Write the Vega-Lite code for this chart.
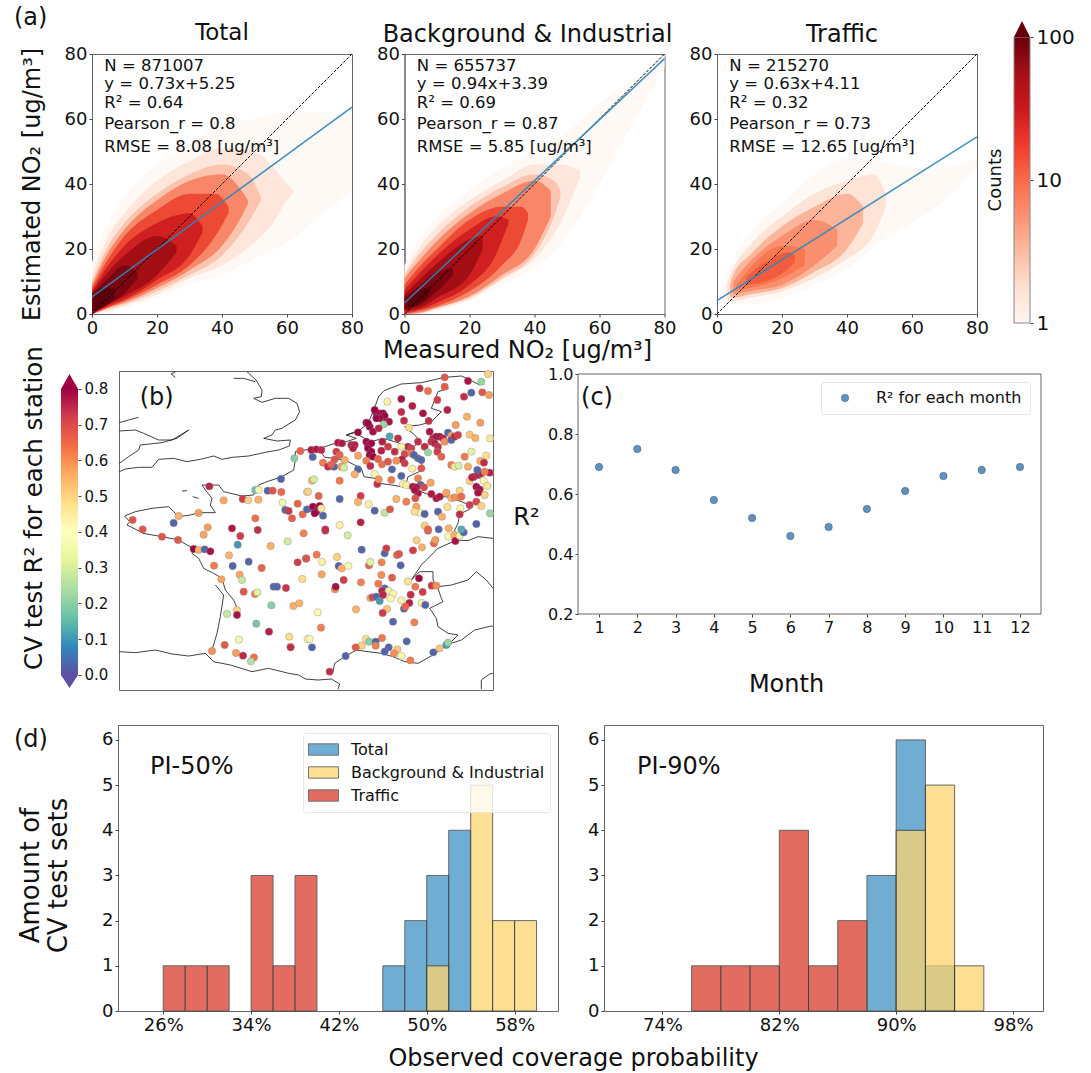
{"$schema":"https://vega.github.io/schema/vega-lite/v6.json","padding":{"left":14,"top":6,"right":0,"bottom":0},"background":"white",
"config":{"font":"DejaVu Sans","view":{"stroke":"#666","strokeWidth":1},"axis":{"grid":false,"tickSize":3,"tickColor":"#444","domainColor":"#666","labelColor":"#111","titleColor":"#111","titleFontWeight":"normal","labelFontSize":18,"titleFontSize":24,"labelPadding":2,"labelOverlap":false,"labelFlush":false},"title":{"fontSize":24,"fontWeight":"normal","color":"#111"},"text":{"color":"#111"}},
"datasets":{
"density":[
{"p":"T","level":1,"x":0,"lo":0,"hi":16},{"p":"T","level":1,"x":5,"lo":0.5,"hi":28},{"p":"T","level":1,"x":10,"lo":2,"hi":36},{"p":"T","level":1,"x":20,"lo":5,"hi":46},{"p":"T","level":1,"x":30,"lo":9,"hi":52},{"p":"T","level":1,"x":40,"lo":12,"hi":58},{"p":"T","level":1,"x":50,"lo":17,"hi":60},{"p":"T","level":1,"x":60,"lo":22,"hi":62},{"p":"T","level":1,"x":70,"lo":30,"hi":62},{"p":"T","level":1,"x":80,"lo":38,"hi":60},
{"p":"T","level":2,"x":0,"lo":0,"hi":12},{"p":"T","level":2,"x":5,"lo":1,"hi":24},{"p":"T","level":2,"x":10,"lo":2.5,"hi":31},{"p":"T","level":2,"x":20,"lo":6,"hi":41},{"p":"T","level":2,"x":30,"lo":11,"hi":47},{"p":"T","level":2,"x":40,"lo":15,"hi":51},{"p":"T","level":2,"x":50,"lo":22,"hi":50},{"p":"T","level":2,"x":55,"lo":27,"hi":46},{"p":"T","level":2,"x":60,"lo":35,"hi":40},{"p":"T","level":2,"x":62,"lo":37.5,"hi":38},
{"p":"T","level":3.5,"x":0,"lo":0,"hi":10},{"p":"T","level":3.5,"x":5,"lo":1.5,"hi":21},{"p":"T","level":3.5,"x":10,"lo":3,"hi":28},{"p":"T","level":3.5,"x":20,"lo":7,"hi":37},{"p":"T","level":3.5,"x":30,"lo":12,"hi":43},{"p":"T","level":3.5,"x":40,"lo":18,"hi":46},{"p":"T","level":3.5,"x":48,"lo":28,"hi":43},{"p":"T","level":3.5,"x":52,"lo":35,"hi":36},
{"p":"T","level":5,"x":0,"lo":0,"hi":9},{"p":"T","level":5,"x":5,"lo":2,"hi":19},{"p":"T","level":5,"x":10,"lo":3.5,"hi":26},{"p":"T","level":5,"x":20,"lo":8,"hi":35},{"p":"T","level":5,"x":30,"lo":13.5,"hi":41},{"p":"T","level":5,"x":40,"lo":21,"hi":43},{"p":"T","level":5,"x":46,"lo":30,"hi":38},{"p":"T","level":5,"x":48,"lo":34,"hi":35},
{"p":"T","level":10,"x":0,"lo":0,"hi":8},{"p":"T","level":10,"x":5,"lo":2,"hi":17},{"p":"T","level":10,"x":10,"lo":4,"hi":24},{"p":"T","level":10,"x":20,"lo":9,"hi":32},{"p":"T","level":10,"x":30,"lo":15,"hi":37},{"p":"T","level":10,"x":38,"lo":24,"hi":37},{"p":"T","level":10,"x":42,"lo":31,"hi":33},
{"p":"T","level":20,"x":0,"lo":0,"hi":7},{"p":"T","level":20,"x":5,"lo":2.5,"hi":15},{"p":"T","level":20,"x":10,"lo":4.5,"hi":21},{"p":"T","level":20,"x":20,"lo":10.5,"hi":28},{"p":"T","level":20,"x":30,"lo":18,"hi":31},{"p":"T","level":20,"x":34,"lo":25,"hi":27},
{"p":"T","level":40,"x":0,"lo":0,"hi":6.5},{"p":"T","level":40,"x":5,"lo":3,"hi":13},{"p":"T","level":40,"x":10,"lo":5.5,"hi":18},{"p":"T","level":40,"x":20,"lo":12,"hi":24},{"p":"T","level":40,"x":26,"lo":19,"hi":21},
{"p":"T","level":70,"x":0,"lo":0.5,"hi":6},{"p":"T","level":70,"x":5,"lo":3,"hi":11},{"p":"T","level":70,"x":10,"lo":6.5,"hi":15},{"p":"T","level":70,"x":14,"lo":11,"hi":13},
{"p":"T","level":100,"x":0.5,"lo":1,"hi":5},{"p":"T","level":100,"x":3,"lo":2,"hi":8},{"p":"T","level":100,"x":7,"lo":5,"hi":8},
{"p":"B","level":1,"x":0,"lo":0,"hi":15},{"p":"B","level":1,"x":5,"lo":0,"hi":24},{"p":"B","level":1,"x":10,"lo":1,"hi":30},{"p":"B","level":1,"x":20,"lo":4,"hi":38},{"p":"B","level":1,"x":30,"lo":9,"hi":45},{"p":"B","level":1,"x":40,"lo":14,"hi":50},{"p":"B","level":1,"x":50,"lo":24,"hi":56},{"p":"B","level":1,"x":60,"lo":40,"hi":65},{"p":"B","level":1,"x":70,"lo":58,"hi":72},{"p":"B","level":1,"x":80,"lo":76,"hi":80},
{"p":"B","level":2,"x":0,"lo":0,"hi":13},{"p":"B","level":2,"x":5,"lo":0.2,"hi":21},{"p":"B","level":2,"x":10,"lo":1.5,"hi":27},{"p":"B","level":2,"x":20,"lo":4.5,"hi":35},{"p":"B","level":2,"x":30,"lo":10.5,"hi":41},{"p":"B","level":2,"x":40,"lo":17,"hi":46},{"p":"B","level":2,"x":48,"lo":28,"hi":46},{"p":"B","level":2,"x":54,"lo":42,"hi":44},
{"p":"B","level":3.5,"x":0,"lo":0,"hi":12},{"p":"B","level":3.5,"x":5,"lo":0.3,"hi":19},{"p":"B","level":3.5,"x":10,"lo":1.8,"hi":24.5},{"p":"B","level":3.5,"x":20,"lo":5,"hi":33},{"p":"B","level":3.5,"x":30,"lo":11,"hi":39},{"p":"B","level":3.5,"x":40,"lo":18.5,"hi":43},{"p":"B","level":3.5,"x":46,"lo":30,"hi":41},{"p":"B","level":3.5,"x":48,"lo":36,"hi":38},
{"p":"B","level":5,"x":0,"lo":0,"hi":11},{"p":"B","level":5,"x":5,"lo":0.5,"hi":17},{"p":"B","level":5,"x":10,"lo":2,"hi":22.5},{"p":"B","level":5,"x":20,"lo":5.5,"hi":31},{"p":"B","level":5,"x":30,"lo":12,"hi":37},{"p":"B","level":5,"x":40,"lo":20,"hi":41},{"p":"B","level":5,"x":45,"lo":30,"hi":38},
{"p":"B","level":10,"x":0,"lo":0,"hi":9},{"p":"B","level":10,"x":5,"lo":1,"hi":15},{"p":"B","level":10,"x":10,"lo":2.5,"hi":20},{"p":"B","level":10,"x":20,"lo":7,"hi":29},{"p":"B","level":10,"x":30,"lo":15,"hi":33},{"p":"B","level":10,"x":36,"lo":23,"hi":33},{"p":"B","level":10,"x":38,"lo":29,"hi":31},
{"p":"B","level":20,"x":0,"lo":0.5,"hi":7.5},{"p":"B","level":20,"x":5,"lo":1.5,"hi":13},{"p":"B","level":20,"x":10,"lo":3.5,"hi":18},{"p":"B","level":20,"x":20,"lo":9,"hi":26},{"p":"B","level":20,"x":28,"lo":18,"hi":30},{"p":"B","level":20,"x":32,"lo":28,"hi":29},
{"p":"B","level":40,"x":0,"lo":1,"hi":6},{"p":"B","level":40,"x":5,"lo":2,"hi":11},{"p":"B","level":40,"x":10,"lo":5,"hi":15.5},{"p":"B","level":40,"x":20,"lo":12,"hi":23},{"p":"B","level":40,"x":24,"lo":20,"hi":24},
{"p":"B","level":70,"x":0,"lo":1.5,"hi":5},{"p":"B","level":70,"x":5,"lo":3,"hi":9},{"p":"B","level":70,"x":10,"lo":7,"hi":13},{"p":"B","level":70,"x":15,"lo":12,"hi":14},
{"p":"B","level":100,"x":1,"lo":2,"hi":4},{"p":"B","level":100,"x":5,"lo":3.5,"hi":7.5},{"p":"B","level":100,"x":8,"lo":7,"hi":8.5},
{"p":"R","level":1,"x":1,"lo":3.5,"hi":6},{"p":"R","level":1,"x":5,"lo":3,"hi":17},{"p":"R","level":1,"x":10,"lo":3,"hi":25},{"p":"R","level":1,"x":20,"lo":5,"hi":34},{"p":"R","level":1,"x":30,"lo":9,"hi":43},{"p":"R","level":1,"x":40,"lo":14,"hi":48},{"p":"R","level":1,"x":50,"lo":22,"hi":47},{"p":"R","level":1,"x":60,"lo":28,"hi":45},{"p":"R","level":1,"x":70,"lo":35,"hi":45},{"p":"R","level":1,"x":80,"lo":45,"hi":48},
{"p":"R","level":2,"x":3,"lo":4.5,"hi":9},{"p":"R","level":2,"x":5,"lo":4,"hi":14},{"p":"R","level":2,"x":10,"lo":5,"hi":21},{"p":"R","level":2,"x":20,"lo":7,"hi":30},{"p":"R","level":2,"x":30,"lo":11,"hi":37},{"p":"R","level":2,"x":40,"lo":17,"hi":41},{"p":"R","level":2,"x":48,"lo":24,"hi":43},{"p":"R","level":2,"x":52,"lo":33,"hi":37},
{"p":"R","level":3.5,"x":4,"lo":5.5,"hi":9},{"p":"R","level":3.5,"x":5,"lo":5,"hi":12},{"p":"R","level":3.5,"x":10,"lo":6,"hi":18},{"p":"R","level":3.5,"x":20,"lo":8,"hi":27},{"p":"R","level":3.5,"x":30,"lo":13,"hi":33},{"p":"R","level":3.5,"x":40,"lo":20,"hi":37},{"p":"R","level":3.5,"x":45,"lo":28,"hi":33},
{"p":"R","level":5,"x":5,"lo":6,"hi":10},{"p":"R","level":5,"x":10,"lo":7,"hi":16},{"p":"R","level":5,"x":20,"lo":9,"hi":24},{"p":"R","level":5,"x":30,"lo":15,"hi":29},{"p":"R","level":5,"x":37,"lo":21,"hi":26},
{"p":"R","level":7,"x":6,"lo":7.5,"hi":9},{"p":"R","level":7,"x":10,"lo":8,"hi":14},{"p":"R","level":7,"x":20,"lo":11,"hi":21},{"p":"R","level":7,"x":27,"lo":15,"hi":20},
{"p":"R","level":10,"x":9,"lo":9,"hi":11.5},{"p":"R","level":10,"x":15,"lo":10,"hi":16},{"p":"R","level":10,"x":22,"lo":14,"hi":19},{"p":"R","level":10,"x":24,"lo":16,"hi":18}
],
"lines":[
{"p":"T","kind":"identity","x":0,"y":0},{"p":"T","kind":"identity","x":80,"y":80},{"p":"T","kind":"fit","x":0,"y":5.25},{"p":"T","kind":"fit","x":80,"y":63.65},
{"p":"B","kind":"identity","x":0,"y":0},{"p":"B","kind":"identity","x":80,"y":80},{"p":"B","kind":"fit","x":0,"y":3.39},{"p":"B","kind":"fit","x":80,"y":78.59},
{"p":"R","kind":"identity","x":0,"y":0},{"p":"R","kind":"identity","x":80,"y":80},{"p":"R","kind":"fit","x":0,"y":4.11},{"p":"R","kind":"fit","x":80,"y":54.51}
],
"notes":[
{"p":"T","t":"N = 871007","x":3.8,"y":76.4},{"p":"T","t":"y = 0.73x+5.25","x":3.8,"y":70.8},{"p":"T","t":"R² = 0.64","x":3.8,"y":64.8},{"p":"T","t":"Pearson_r = 0.8","x":3.8,"y":58.6},{"p":"T","t":"RMSE = 8.08 [ug/m³]","x":3.8,"y":51.5},
{"p":"B","t":"N = 655737","x":3.8,"y":76.4},{"p":"B","t":"y = 0.94x+3.39","x":3.8,"y":70.8},{"p":"B","t":"R² = 0.69","x":3.8,"y":64.8},{"p":"B","t":"Pearson_r = 0.87","x":3.8,"y":58.6},{"p":"B","t":"RMSE = 5.85 [ug/m³]","x":3.8,"y":51.5},
{"p":"R","t":"N = 215270","x":3.8,"y":76.4},{"p":"R","t":"y = 0.63x+4.11","x":3.8,"y":70.8},{"p":"R","t":"R² = 0.32","x":3.8,"y":64.8},{"p":"R","t":"Pearson_r = 0.73","x":3.8,"y":58.6},{"p":"R","t":"RMSE = 12.65 [ug/m³]","x":3.8,"y":51.5}
],
"coast":[
{"s":1,"i":1,"x":552,"y":40},{"s":1,"i":2,"x":582,"y":40},{"s":1,"i":3,"x":617,"y":50},
{"s":2,"i":1,"x":592,"y":20},{"s":2,"i":2,"x":619,"y":45},{"s":2,"i":3,"x":637,"y":75},{"s":2,"i":4,"x":635,"y":95},{"s":2,"i":5,"x":612,"y":100},{"s":2,"i":6,"x":637,"y":112},{"s":2,"i":7,"x":677,"y":100},{"s":2,"i":8,"x":717,"y":100},{"s":2,"i":9,"x":742,"y":115},{"s":2,"i":10,"x":750,"y":140},{"s":2,"i":11,"x":737,"y":165},{"s":2,"i":12,"x":712,"y":180},{"s":2,"i":13,"x":697,"y":190},{"s":2,"i":14,"x":677,"y":195},{"s":2,"i":15,"x":667,"y":210},{"s":2,"i":16,"x":642,"y":220},{"s":2,"i":17,"x":682,"y":228},{"s":2,"i":18,"x":722,"y":225},{"s":2,"i":19,"x":719,"y":243},{"s":2,"i":20,"x":687,"y":255},{"s":2,"i":21,"x":647,"y":262},{"s":2,"i":22,"x":597,"y":273},{"s":2,"i":23,"x":547,"y":277},{"s":2,"i":24,"x":517,"y":283},{"s":2,"i":25,"x":492,"y":273},{"s":2,"i":26,"x":452,"y":283},{"s":2,"i":27,"x":412,"y":290},{"s":2,"i":28,"x":372,"y":280},{"s":2,"i":29,"x":327,"y":283},{"s":2,"i":30,"x":307,"y":307},{"s":2,"i":31,"x":267,"y":307},{"s":2,"i":32,"x":227,"y":312},{"s":2,"i":33,"x":209,"y":320},
{"s":3,"i":1,"x":209,"y":173},{"s":3,"i":2,"x":237,"y":165},{"s":3,"i":3,"x":267,"y":157},
{"s":4,"i":1,"x":209,"y":198},{"s":4,"i":2,"x":257,"y":195},{"s":4,"i":3,"x":282,"y":205},{"s":4,"i":4,"x":327,"y":225},{"s":4,"i":5,"x":367,"y":225},{"s":4,"i":6,"x":392,"y":210},{"s":4,"i":7,"x":417,"y":195},{"s":4,"i":8,"x":382,"y":220},{"s":4,"i":9,"x":337,"y":233},{"s":4,"i":10,"x":272,"y":240},{"s":4,"i":11,"x":267,"y":255},{"s":4,"i":12,"x":237,"y":275},{"s":4,"i":13,"x":209,"y":295},
{"s":5,"i":1,"x":378,"y":20},{"s":5,"i":2,"x":364,"y":27},{"s":5,"i":3,"x":377,"y":37},
{"s":6,"i":1,"x":429,"y":395},{"s":6,"i":2,"x":447,"y":400},
{"s":7,"i":1,"x":397,"y":378},{"s":7,"i":2,"x":412,"y":377},
{"s":8,"i":1,"x":225,"y":453},{"s":8,"i":2,"x":257,"y":440},{"s":8,"i":3,"x":307,"y":430},{"s":8,"i":4,"x":357,"y":425},{"s":8,"i":5,"x":372,"y":440},{"s":8,"i":6,"x":387,"y":455},{"s":8,"i":7,"x":422,"y":450},{"s":8,"i":8,"x":447,"y":443},{"s":8,"i":9,"x":497,"y":443},{"s":8,"i":10,"x":482,"y":420},{"s":8,"i":11,"x":487,"y":400},{"s":8,"i":12,"x":467,"y":375},{"s":8,"i":13,"x":457,"y":360},{"s":8,"i":14,"x":507,"y":360},{"s":8,"i":15,"x":522,"y":380},{"s":8,"i":16,"x":577,"y":393},{"s":8,"i":17,"x":612,"y":390},{"s":8,"i":18,"x":627,"y":360},{"s":8,"i":19,"x":652,"y":350},{"s":8,"i":20,"x":697,"y":335},{"s":8,"i":21,"x":732,"y":315},{"s":8,"i":22,"x":737,"y":285},{"s":8,"i":23,"x":737,"y":260},{"s":8,"i":24,"x":777,"y":253},{"s":8,"i":25,"x":810,"y":250},{"s":8,"i":26,"x":850,"y":237},{"s":8,"i":27,"x":890,"y":230},{"s":8,"i":28,"x":920,"y":220},{"s":8,"i":29,"x":890,"y":210},{"s":8,"i":30,"x":930,"y":195},{"s":8,"i":31,"x":955,"y":175},{"s":8,"i":32,"x":970,"y":140},{"s":8,"i":33,"x":987,"y":95},{"s":8,"i":34,"x":1003,"y":77},{"s":8,"i":35,"x":1055,"y":57},{"s":8,"i":36,"x":1115,"y":53},{"s":8,"i":37,"x":1185,"y":37},{"s":8,"i":38,"x":1235,"y":33},{"s":8,"i":39,"x":1265,"y":47},{"s":8,"i":40,"x":1290,"y":60},
{"s":9,"i":1,"x":890,"y":210},{"s":9,"i":2,"x":915,"y":203},{"s":9,"i":3,"x":945,"y":220},{"s":9,"i":4,"x":965,"y":230},{"s":9,"i":5,"x":1000,"y":220},{"s":9,"i":6,"x":1035,"y":230},{"s":9,"i":7,"x":1065,"y":240},{"s":9,"i":8,"x":1085,"y":255},
{"s":10,"i":1,"x":810,"y":255},{"s":10,"i":2,"x":825,"y":277},{"s":10,"i":3,"x":855,"y":280},{"s":10,"i":4,"x":895,"y":290},{"s":10,"i":5,"x":915,"y":300},{"s":10,"i":6,"x":935,"y":310},{"s":10,"i":7,"x":943,"y":335},{"s":10,"i":8,"x":975,"y":340},{"s":10,"i":9,"x":990,"y":355},{"s":10,"i":10,"x":1025,"y":360},{"s":10,"i":11,"x":1055,"y":365},{"s":10,"i":12,"x":1085,"y":370},{"s":10,"i":13,"x":1115,"y":380},{"s":10,"i":14,"x":1140,"y":390},{"s":10,"i":15,"x":1165,"y":393},{"s":10,"i":16,"x":1200,"y":397},{"s":10,"i":17,"x":1235,"y":410},{"s":10,"i":18,"x":1260,"y":420},{"s":10,"i":19,"x":1260,"y":433},{"s":10,"i":20,"x":1230,"y":447},{"s":10,"i":21,"x":1225,"y":475},{"s":10,"i":22,"x":1215,"y":495},{"s":10,"i":23,"x":1217,"y":525},{"s":10,"i":24,"x":1255,"y":527},{"s":10,"i":25,"x":1285,"y":515},{"s":10,"i":26,"x":1330,"y":520},
{"s":11,"i":1,"x":1197,"y":70},{"s":11,"i":2,"x":1165,"y":80},{"s":11,"i":3,"x":1145,"y":130},{"s":11,"i":4,"x":1175,"y":140},{"s":11,"i":5,"x":1145,"y":170},{"s":11,"i":6,"x":1110,"y":180},{"s":11,"i":7,"x":1065,"y":185},{"s":11,"i":8,"x":1095,"y":210},{"s":11,"i":9,"x":1110,"y":227},{"s":11,"i":10,"x":1085,"y":255},{"s":11,"i":11,"x":1115,"y":290},{"s":11,"i":12,"x":1120,"y":315},{"s":11,"i":13,"x":1075,"y":335},{"s":11,"i":14,"x":1068,"y":360},
{"s":12,"i":1,"x":1210,"y":530},{"s":12,"i":2,"x":1165,"y":550},{"s":12,"i":3,"x":1140,"y":575},{"s":12,"i":4,"x":1115,"y":600},{"s":12,"i":5,"x":1095,"y":630},{"s":12,"i":6,"x":1085,"y":645},{"s":12,"i":7,"x":1110,"y":620},{"s":12,"i":8,"x":1150,"y":620},{"s":12,"i":9,"x":1150,"y":645},{"s":12,"i":10,"x":1165,"y":670},{"s":12,"i":11,"x":1175,"y":700},{"s":12,"i":12,"x":1180,"y":710},{"s":12,"i":13,"x":1140,"y":730},{"s":12,"i":14,"x":1160,"y":760},{"s":12,"i":15,"x":1165,"y":785},{"s":12,"i":16,"x":1195,"y":805},{"s":12,"i":17,"x":1225,"y":810},{"s":12,"i":18,"x":1205,"y":830},{"s":12,"i":19,"x":1190,"y":840},
{"s":13,"i":1,"x":1150,"y":667},{"s":13,"i":2,"x":1205,"y":660},{"s":13,"i":3,"x":1255,"y":645},{"s":13,"i":4,"x":1280,"y":620},{"s":13,"i":5,"x":1310,"y":645},{"s":13,"i":6,"x":1330,"y":670},
{"s":14,"i":1,"x":1190,"y":840},{"s":14,"i":2,"x":1235,"y":825},{"s":14,"i":3,"x":1275,"y":795},{"s":14,"i":4,"x":1325,"y":783},{"s":14,"i":5,"x":1330,"y":785},
{"s":15,"i":1,"x":225,"y":453},{"s":15,"i":2,"x":240,"y":470},{"s":15,"i":3,"x":232,"y":480},{"s":15,"i":4,"x":262,"y":495},{"s":15,"i":5,"x":280,"y":505},{"s":15,"i":6,"x":337,"y":515},{"s":15,"i":7,"x":387,"y":525},{"s":15,"i":8,"x":412,"y":540},{"s":15,"i":9,"x":432,"y":550},{"s":15,"i":10,"x":427,"y":565},{"s":15,"i":11,"x":447,"y":580},{"s":15,"i":12,"x":462,"y":610},{"s":15,"i":13,"x":492,"y":625},{"s":15,"i":14,"x":517,"y":640},{"s":15,"i":15,"x":527,"y":675},{"s":15,"i":16,"x":552,"y":705},{"s":15,"i":17,"x":565,"y":735},
{"s":16,"i":1,"x":497,"y":660},{"s":16,"i":2,"x":522,"y":690},{"s":16,"i":3,"x":512,"y":755},{"s":16,"i":4,"x":502,"y":805},{"s":16,"i":5,"x":487,"y":855},
{"s":17,"i":1,"x":209,"y":860},{"s":17,"i":2,"x":257,"y":863},{"s":17,"i":3,"x":317,"y":855},{"s":17,"i":4,"x":367,"y":867},{"s":17,"i":5,"x":417,"y":873},{"s":17,"i":6,"x":467,"y":865},{"s":17,"i":7,"x":492,"y":890},{"s":17,"i":8,"x":542,"y":900},{"s":17,"i":9,"x":607,"y":920},{"s":17,"i":10,"x":657,"y":910},{"s":17,"i":11,"x":717,"y":925},{"s":17,"i":12,"x":747,"y":930},{"s":17,"i":13,"x":767,"y":942},{"s":17,"i":14,"x":805,"y":945},{"s":17,"i":15,"x":845,"y":942},{"s":17,"i":16,"x":870,"y":957},{"s":17,"i":17,"x":865,"y":973},
{"s":18,"i":1,"x":850,"y":920},{"s":18,"i":2,"x":855,"y":895},{"s":18,"i":3,"x":885,"y":875},{"s":18,"i":4,"x":920,"y":855},{"s":18,"i":5,"x":955,"y":860},{"s":18,"i":6,"x":995,"y":865},{"s":18,"i":7,"x":1030,"y":875},{"s":18,"i":8,"x":1065,"y":890},{"s":18,"i":9,"x":1105,"y":895},{"s":18,"i":10,"x":1150,"y":870},{"s":18,"i":11,"x":1190,"y":840},
{"s":19,"i":1,"x":1295,"y":973},{"s":19,"i":2,"x":1295,"y":945},{"s":19,"i":3,"x":1320,"y":927},{"s":19,"i":4,"x":1330,"y":925}
],
"stations":[
{"x":752,"y":258,"r2":0.66},{"x":734,"y":280,"r2":0.2},{"x":694,"y":342,"r2":0.03},{"x":617,"y":375,"r2":0.17},{"x":627,"y":375,"r2":0.38},{"x":654,"y":377,"r2":0.03},{"x":669,"y":377,"r2":0.68},{"x":695,"y":381,"r2":0.65},{"x":479,"y":364,"r2":0.75},{"x":522,"y":406,"r2":0.57},{"x":579,"y":402,"r2":0.72},{"x":596,"y":406,"r2":0.5},{"x":626,"y":404,"r2":0.55},{"x":699,"y":413,"r2":0.37},{"x":744,"y":416,"r2":0.66},{"x":707,"y":435,"r2":0.03},{"x":717,"y":438,"r2":0.73},{"x":759,"y":448,"r2":0.65},{"x":727,"y":460,"r2":0.67},{"x":617,"y":460,"r2":0.64},{"x":772,"y":381,"r2":0.48},{"x":772,"y":433,"r2":0.03},{"x":547,"y":490,"r2":0.77},{"x":624,"y":495,"r2":0.74},{"x":474,"y":487,"r2":0.58},{"x":372,"y":474,"r2":0.03},{"x":387,"y":453,"r2":0.55},{"x":447,"y":444,"r2":0.58},{"x":249,"y":465,"r2":0.68},{"x":279,"y":493,"r2":0.68},
{"x":337,"y":515,"r2":0.68},{"x":385,"y":525,"r2":0.68},{"x":462,"y":509,"r2":0.57},{"x":572,"y":513,"r2":0.72},{"x":564,"y":539,"r2":0.1},{"x":663,"y":543,"r2":0.55},{"x":714,"y":529,"r2":0.3},{"x":762,"y":505,"r2":0.62},{"x":432,"y":552,"r2":0.8},{"x":447,"y":555,"r2":0.55},{"x":465,"y":553,"r2":0.03},{"x":482,"y":559,"r2":0.78},{"x":538,"y":571,"r2":0.55},{"x":493,"y":602,"r2":0.63},{"x":549,"y":603,"r2":0.03},{"x":597,"y":590,"r2":0.03},{"x":636,"y":609,"r2":0.66},{"x":744,"y":592,"r2":0.72},{"x":769,"y":581,"r2":0.7},{"x":515,"y":643,"r2":0.57},{"x":570,"y":629,"r2":0.57},{"x":577,"y":645,"r2":0.28},{"x":582,"y":680,"r2":0.68},{"x":616,"y":687,"r2":0.62},{"x":623,"y":682,"r2":0.32},{"x":672,"y":665,"r2":0.03},{"x":682,"y":665,"r2":0.03},{"x":709,"y":669,"r2":0.73},{"x":758,"y":642,"r2":0.48},{"x":665,"y":721,"r2":0.2},{"x":731,"y":723,"r2":0.55},{"x":749,"y":715,"r2":0.55},{"x":532,"y":747,"r2":0.28},{"x":562,"y":735,"r2":0.5},{"x":562,"y":750,"r2":0.78},{"x":620,"y":776,"r2":0.18},{"x":658,"y":800,"r2":0.76},{"x":719,"y":815,"r2":0.48},{"x":774,"y":822,"r2":0.4},{"x":722,"y":845,"r2":0.5},{"x":723,"y":847,"r2":0.74},{"x":568,"y":824,"r2":0.38},{"x":525,"y":840,"r2":0.67},{"x":487,"y":858,"r2":0.6},{"x":559,"y":864,"r2":0.58},{"x":580,"y":872,"r2":0.75},{"x":613,"y":877,"r2":0.64},{"x":604,"y":889,"r2":0.25},
{"x":827,"y":497,"r2":0.74},{"x":894,"y":511,"r2":0.3},{"x":801,"y":569,"r2":0.63},{"x":862,"y":576,"r2":0.5},{"x":770,"y":580,"r2":0.68},{"x":817,"y":591,"r2":0.42},{"x":867,"y":603,"r2":0.03},{"x":876,"y":610,"r2":0.55},{"x":896,"y":603,"r2":0.4},{"x":958,"y":601,"r2":0.66},{"x":962,"y":591,"r2":0.32},{"x":996,"y":592,"r2":0.62},{"x":936,"y":554,"r2":0.03},{"x":1005,"y":565,"r2":0.03},{"x":1010,"y":550,"r2":0.72},{"x":1042,"y":570,"r2":0.66},{"x":1048,"y":567,"r2":0.68},{"x":1053,"y":601,"r2":0.03},{"x":1090,"y":556,"r2":0.72},{"x":1117,"y":547,"r2":0.55},{"x":1101,"y":526,"r2":0.5},{"x":1153,"y":535,"r2":0.66},{"x":1157,"y":525,"r2":0.58},{"x":1135,"y":497,"r2":0.68},{"x":1196,"y":515,"r2":0.4},{"x":1214,"y":510,"r2":0.55},{"x":1217,"y":528,"r2":0.78},{"x":1230,"y":512,"r2":0.35},{"x":1242,"y":502,"r2":0.03},{"x":816,"y":628,"r2":0.57},{"x":882,"y":645,"r2":0.72},{"x":934,"y":652,"r2":0.62},{"x":986,"y":656,"r2":0.63},{"x":995,"y":630,"r2":0.6},{"x":1027,"y":638,"r2":0.67},{"x":1075,"y":649,"r2":0.47},{"x":1108,"y":640,"r2":0.8},{"x":856,"y":673,"r2":0.6},{"x":858,"y":665,"r2":0.78},{"x":1005,"y":670,"r2":0.03},{"x":997,"y":678,"r2":0.76},{"x":1017,"y":678,"r2":0.42},{"x":1030,"y":687,"r2":0.4},{"x":1023,"y":700,"r2":0.4},{"x":962,"y":699,"r2":0.55},{"x":968,"y":697,"r2":0.7},{"x":980,"y":695,"r2":0.03},{"x":1000,"y":690,"r2":0.75},{"x":990,"y":708,"r2":0.1},{"x":1055,"y":706,"r2":0.42},{"x":1083,"y":689,"r2":0.74},{"x":1119,"y":681,"r2":0.72},{"x":1146,"y":662,"r2":0.72},{"x":1160,"y":662,"r2":0.6},{"x":1097,"y":665,"r2":0.63},{"x":1079,"y":714,"r2":0.76},{"x":1063,"y":731,"r2":0.03},{"x":1067,"y":725,"r2":0.66},{"x":1116,"y":714,"r2":0.42},{"x":1127,"y":720,"r2":0.03},{"x":1012,"y":732,"r2":0.52},{"x":999,"y":744,"r2":0.72},{"x":919,"y":733,"r2":0.55},{"x":804,"y":742,"r2":0.4},{"x":1030,"y":770,"r2":0.03},{"x":1094,"y":772,"r2":0.62},{"x":814,"y":788,"r2":0.62},{"x":780,"y":822,"r2":0.4},{"x":787,"y":847,"r2":0.03},{"x":949,"y":822,"r2":0.48},{"x":958,"y":830,"r2":0.2},{"x":997,"y":819,"r2":0.63},{"x":978,"y":830,"r2":0.03},{"x":978,"y":842,"r2":0.62},{"x":936,"y":842,"r2":0.5},{"x":918,"y":847,"r2":0.67},{"x":1071,"y":829,"r2":0.03},{"x":1017,"y":847,"r2":0.03},{"x":1043,"y":853,"r2":0.52},{"x":1005,"y":860,"r2":0.03},{"x":1033,"y":865,"r2":0.6},{"x":1055,"y":873,"r2":0.4},{"x":888,"y":873,"r2":0.03},{"x":1082,"y":886,"r2":0.62},{"x":1151,"y":862,"r2":0.03},{"x":1170,"y":850,"r2":0.52},{"x":1190,"y":840,"r2":0.1},{"x":1195,"y":833,"r2":0.22},{"x":840,"y":920,"r2":0.74},
{"x":1185,"y":37,"r2":0.68},{"x":1110,"y":70,"r2":0.74},{"x":1135,"y":78,"r2":0.64},{"x":1185,"y":65,"r2":0.67},{"x":1255,"y":48,"r2":0.78},{"x":1295,"y":50,"r2":0.22},{"x":1315,"y":27,"r2":0.5},{"x":1265,"y":83,"r2":0.03},{"x":1243,"y":95,"r2":0.74},{"x":1298,"y":82,"r2":0.68},{"x":1318,"y":90,"r2":0.58},{"x":1055,"y":102,"r2":0.78},{"x":1013,"y":110,"r2":0.42},{"x":1163,"y":105,"r2":0.72},{"x":1088,"y":123,"r2":0.76},{"x":1193,"y":135,"r2":0.76},{"x":1055,"y":141,"r2":0.74},{"x":1120,"y":145,"r2":0.78},
{"x":980,"y":145,"r2":0.8},{"x":990,"y":145,"r2":0.8},{"x":1000,"y":145,"r2":0.8},{"x":1005,"y":153,"r2":0.8},{"x":990,"y":160,"r2":0.8},{"x":980,"y":160,"r2":0.8},{"x":975,"y":135,"r2":0.8},{"x":1010,"y":170,"r2":0.78},{"x":1018,"y":170,"r2":0.78},{"x":1002,"y":178,"r2":0.22},{"x":950,"y":173,"r2":0.8},{"x":960,"y":185,"r2":0.8},{"x":955,"y":175,"r2":0.8},{"x":970,"y":200,"r2":0.78},{"x":987,"y":190,"r2":0.75},{"x":1063,"y":167,"r2":0.74},{"x":1137,"y":168,"r2":0.74},{"x":1078,"y":188,"r2":0.48},{"x":1218,"y":180,"r2":0.58},{"x":1252,"y":155,"r2":0.55},{"x":1292,"y":173,"r2":0.58},{"x":925,"y":202,"r2":0.8},{"x":1020,"y":214,"r2":0.12},{"x":1045,"y":220,"r2":0.74},{"x":998,"y":230,"r2":0.76},{"x":1140,"y":200,"r2":0.77},{"x":1195,"y":203,"r2":0.03},{"x":1205,"y":212,"r2":0.58},{"x":1260,"y":209,"r2":0.52},{"x":1277,"y":219,"r2":0.55},{"x":1321,"y":220,"r2":0.45},
{"x":1150,"y":220,"r2":0.76},{"x":1160,"y":215,"r2":0.78},{"x":1170,"y":215,"r2":0.78},{"x":1180,"y":220,"r2":0.76},{"x":1145,"y":230,"r2":0.74},{"x":1155,"y":235,"r2":0.76},{"x":1165,"y":245,"r2":0.74},{"x":1185,"y":230,"r2":0.6},{"x":1205,"y":225,"r2":0.03},{"x":1215,"y":215,"r2":0.75},{"x":1225,"y":210,"r2":0.72},{"x":1075,"y":245,"r2":0.75},{"x":1105,"y":230,"r2":0.74},{"x":1125,"y":245,"r2":0.74},{"x":1135,"y":262,"r2":0.22},{"x":1163,"y":260,"r2":0.72},{"x":1175,"y":275,"r2":0.66},{"x":1265,"y":260,"r2":0.33},{"x":1310,"y":272,"r2":0.47},{"x":1245,"y":275,"r2":0.63},{"x":1292,"y":288,"r2":0.55},{"x":1303,"y":293,"r2":0.74},
{"x":785,"y":255,"r2":0.77},{"x":800,"y":253,"r2":0.77},{"x":815,"y":255,"r2":0.75},{"x":865,"y":233,"r2":0.77},{"x":877,"y":235,"r2":0.77},{"x":905,"y":240,"r2":0.76},{"x":915,"y":240,"r2":0.76},{"x":910,"y":250,"r2":0.76},{"x":950,"y":230,"r2":0.8},{"x":955,"y":240,"r2":0.8},{"x":965,"y":235,"r2":0.8},{"x":955,"y":250,"r2":0.8},{"x":965,"y":260,"r2":0.8},{"x":960,"y":270,"r2":0.8},{"x":970,"y":275,"r2":0.8},{"x":995,"y":257,"r2":0.76},{"x":1015,"y":245,"r2":0.72},{"x":1035,"y":260,"r2":0.74},{"x":1055,"y":245,"r2":0.42},{"x":1085,"y":250,"r2":0.72},{"x":1065,"y":267,"r2":0.7},{"x":1057,"y":283,"r2":0.76},{"x":1040,"y":287,"r2":0.6},{"x":1085,"y":265,"r2":0.63},{"x":1093,"y":270,"r2":0.03},{"x":789,"y":276,"r2":0.03},{"x":820,"y":293,"r2":0.63},{"x":860,"y":260,"r2":0.72},{"x":870,"y":270,"r2":0.66},{"x":885,"y":285,"r2":0.55},{"x":855,"y":283,"r2":0.68},{"x":875,"y":305,"r2":0.58},{"x":883,"y":308,"r2":0.3},{"x":853,"y":305,"r2":0.03},{"x":835,"y":305,"r2":0.74},{"x":845,"y":298,"r2":0.66},{"x":925,"y":272,"r2":0.57},{"x":985,"y":282,"r2":0.66},{"x":950,"y":287,"r2":0.62},{"x":997,"y":298,"r2":0.64},{"x":1015,"y":290,"r2":0.68},{"x":962,"y":303,"r2":0.74},{"x":1027,"y":313,"r2":0.03},{"x":925,"y":313,"r2":0.03},{"x":915,"y":328,"r2":0.55},{"x":870,"y":347,"r2":0.63},{"x":787,"y":347,"r2":0.55},{"x":793,"y":343,"r2":0.3},{"x":1088,"y":311,"r2":0.42},{"x":1105,"y":280,"r2":0.03},{"x":1115,"y":285,"r2":0.03},{"x":1115,"y":310,"r2":0.68},{"x":1065,"y":295,"r2":0.72},{"x":1055,"y":333,"r2":0.03},{"x":1025,"y":345,"r2":0.63},{"x":975,"y":327,"r2":0.4},{"x":983,"y":357,"r2":0.74},{"x":987,"y":343,"r2":0.6},{"x":1060,"y":357,"r2":0.42},{"x":1070,"y":360,"r2":0.42},{"x":1105,"y":340,"r2":0.62},{"x":1143,"y":353,"r2":0.57},{"x":1113,"y":360,"r2":0.03},
{"x":1090,"y":365,"r2":0.78},{"x":1100,"y":367,"r2":0.78},{"x":1105,"y":385,"r2":0.78},{"x":1095,"y":375,"r2":0.78},{"x":1123,"y":367,"r2":0.7},{"x":1145,"y":387,"r2":0.77},{"x":1160,"y":400,"r2":0.77},{"x":1170,"y":395,"r2":0.77},{"x":1190,"y":383,"r2":0.57},{"x":1230,"y":377,"r2":0.5},{"x":1205,"y":400,"r2":0.55},{"x":1215,"y":397,"r2":0.6},{"x":1235,"y":395,"r2":0.65},{"x":775,"y":380,"r2":0.5},{"x":807,"y":393,"r2":0.66},{"x":870,"y":402,"r2":0.03},{"x":933,"y":393,"r2":0.72},{"x":925,"y":411,"r2":0.55},{"x":1040,"y":402,"r2":0.55},{"x":1070,"y":410,"r2":0.62},{"x":1097,"y":400,"r2":0.68},{"x":1100,"y":425,"r2":0.57},{"x":1110,"y":443,"r2":0.42},{"x":1125,"y":447,"r2":0.03},{"x":957,"y":418,"r2":0.42},{"x":975,"y":437,"r2":0.03},{"x":1005,"y":443,"r2":0.27},{"x":1021,"y":433,"r2":0.68},{"x":787,"y":430,"r2":0.03},{"x":797,"y":430,"r2":0.8},{"x":790,"y":425,"r2":0.8},{"x":805,"y":427,"r2":0.8},{"x":810,"y":423,"r2":0.8},{"x":800,"y":440,"r2":0.8},{"x":795,"y":445,"r2":0.8},{"x":820,"y":452,"r2":0.03},{"x":815,"y":430,"r2":0.45},{"x":1165,"y":440,"r2":0.03},{"x":1193,"y":426,"r2":0.47},{"x":1177,"y":455,"r2":0.55},{"x":1232,"y":430,"r2":0.4},{"x":1230,"y":448,"r2":0.74},{"x":1260,"y":420,"r2":0.72},{"x":1280,"y":410,"r2":0.7},{"x":1295,"y":423,"r2":0.5},{"x":1305,"y":390,"r2":0.5},
{"x":1273,"y":335,"r2":0.76},{"x":1285,"y":330,"r2":0.76},{"x":1295,"y":325,"r2":0.76},{"x":1320,"y":323,"r2":0.76},{"x":1280,"y":365,"r2":0.78},{"x":1290,"y":373,"r2":0.78},{"x":1285,"y":383,"r2":0.78},{"x":1260,"y":348,"r2":0.5},{"x":1267,"y":337,"r2":0.76},{"x":1302,"y":347,"r2":0.4},{"x":1313,"y":363,"r2":0.45},{"x":1283,"y":315,"r2":0.03},{"x":1305,"y":320,"r2":0.62},{"x":1255,"y":305,"r2":0.56},{"x":1205,"y":300,"r2":0.62},{"x":1215,"y":305,"r2":0.45},{"x":1227,"y":302,"r2":0.3},{"x":1280,"y":477,"r2":0.03},{"x":1321,"y":445,"r2":0.22},{"x":870,"y":480,"r2":0.42},{"x":933,"y":472,"r2":0.76},{"x":827,"y":493,"r2":0.74},{"x":1095,"y":440,"r2":0.47},{"x":1125,"y":482,"r2":0.5},{"x":1135,"y":493,"r2":0.66},{"x":1167,"y":493,"r2":0.03},{"x":1197,"y":490,"r2":0.55},{"x":1235,"y":493,"r2":0.13}
],
"bars":[
{"g":"Total","pi":50,"a":46,"b":48,"n":1},{"g":"Total","pi":50,"a":48,"b":50,"n":2},{"g":"Total","pi":50,"a":50,"b":52,"n":3},{"g":"Total","pi":50,"a":52,"b":54,"n":4},
{"g":"Background & Industrial","pi":50,"a":50,"b":52,"n":1},{"g":"Background & Industrial","pi":50,"a":54,"b":56,"n":5},{"g":"Background & Industrial","pi":50,"a":56,"b":58,"n":2},{"g":"Background & Industrial","pi":50,"a":58,"b":60,"n":2},
{"g":"Traffic","pi":50,"a":26,"b":28,"n":1},{"g":"Traffic","pi":50,"a":28,"b":30,"n":1},{"g":"Traffic","pi":50,"a":30,"b":32,"n":1},{"g":"Traffic","pi":50,"a":34,"b":36,"n":3},{"g":"Traffic","pi":50,"a":36,"b":38,"n":1},{"g":"Traffic","pi":50,"a":38,"b":40,"n":3},
{"g":"Total","pi":90,"a":88,"b":90,"n":3},{"g":"Total","pi":90,"a":90,"b":92,"n":6},{"g":"Total","pi":90,"a":92,"b":94,"n":1},
{"g":"Background & Industrial","pi":90,"a":90,"b":92,"n":4},{"g":"Background & Industrial","pi":90,"a":92,"b":94,"n":5},{"g":"Background & Industrial","pi":90,"a":94,"b":96,"n":1},
{"g":"Traffic","pi":90,"a":76,"b":78,"n":1},{"g":"Traffic","pi":90,"a":78,"b":80,"n":1},{"g":"Traffic","pi":90,"a":80,"b":82,"n":1},{"g":"Traffic","pi":90,"a":82,"b":84,"n":4},{"g":"Traffic","pi":90,"a":84,"b":86,"n":1},{"g":"Traffic","pi":90,"a":86,"b":88,"n":2}
],
"months":[{"m":1,"r":0.69,"s":"R² for each month"},{"m":2,"r":0.75,"s":"R² for each month"},{"m":3,"r":0.68,"s":"R² for each month"},{"m":4,"r":0.58,"s":"R² for each month"},{"m":5,"r":0.52,"s":"R² for each month"},{"m":6,"r":0.46,"s":"R² for each month"},{"m":7,"r":0.49,"s":"R² for each month"},{"m":8,"r":0.55,"s":"R² for each month"},{"m":9,"r":0.61,"s":"R² for each month"},{"m":10,"r":0.66,"s":"R² for each month"},{"m":11,"r":0.68,"s":"R² for each month"},{"m":12,"r":0.69,"s":"R² for each month"}]
},
"bounds":"flush","spacing":671,"resolve":{"scale":{"color":"independent"}},
"vconcat":[
{"bounds":"flush","spacing":317,"resolve":{"scale":{"color":"independent"}},"vconcat":[
 {"bounds":"flush","spacing":30,"resolve":{"scale":{"color":"independent"}},"hconcat":[
  {"width":1,"height":1,"view":{"stroke":null},"data":{"values":[{"t":"(a)","x":-47,"y":37}]},"mark":{"type":"text","align":"left","baseline":"middle","fontSize":24},"encoding":{"x":{"field":"x","type":"quantitative","axis":null,"scale":{"domain":[0,1]}},"y":{"field":"y","type":"quantitative","axis":null,"scale":{"domain":[0,1]}},"text":{"field":"t"}}},
  {"bounds":"flush","spacing":922,"resolve":{"scale":{"color":"independent"}},"hconcat":[
   {"bounds":"flush","spacing":52.5,"resolve":{"scale":{"color":"independent"}},"hconcat":[
    {"width":260,"height":260,
     "layer":[
      {"data":{"name":"density"},"transform":[{"filter":"datum.p==='T'"}],"mark":{"type":"area","interpolate":"monotone"},
       "encoding":{"x":{"field":"x","type":"quantitative","scale":{"domain":[0,80]},"axis":{"title":null,"values":[0,20,40,60,80]}},"y":{"field":"lo","type":"quantitative","stack":null,"scale":{"domain":[0,80]},"axis":{"title":"Estimated NO₂ [ug/m³]","values":[0,20,40,60,80],"titlePadding":20}},"y2":{"field":"hi"},"color":{"field":"level","type":"ordinal","legend":null,"scale":{"domain":[1,2,3.5,5,7,10,20,40,70,100],"range":["#fff9f6","#fee6dc","#fcc3ae","#f8876a","#f0503a","#ec4a35","#cf1f20","#a30e14","#7a0510","#5c000b"]}}}},
      {"data":{"name":"lines"},"transform":[{"filter":"datum.p==='T' && datum.kind==='identity'"}],"mark":{"type":"line","color":"#000","strokeWidth":1,"strokeDash":[3,1.5]},"encoding":{"x":{"field":"x","type":"quantitative","scale":{"domain":[0,80]}},"y":{"field":"y","type":"quantitative","scale":{"domain":[0,80]}}}},
      {"data":{"name":"lines"},"transform":[{"filter":"datum.p==='T' && datum.kind==='fit'"}],"mark":{"type":"line","color":"#2f86ba","strokeWidth":1.6,"opacity":0.9},"encoding":{"x":{"field":"x","type":"quantitative","scale":{"domain":[0,80]}},"y":{"field":"y","type":"quantitative","scale":{"domain":[0,80]}}}},
      {"data":{"name":"notes"},"transform":[{"filter":"datum.p==='T'"}],"mark":{"type":"text","align":"left","baseline":"middle","fontSize":16.5},"encoding":{"x":{"field":"x","type":"quantitative","scale":{"domain":[0,80]}},"y":{"field":"y","type":"quantitative","scale":{"domain":[0,80]}},"text":{"field":"t"}}},
      {"data":{"values":[{"t":"Total","x":40,"y":86.5}]},"mark":{"type":"text","align":"center","baseline":"middle","fontSize":23},"encoding":{"x":{"field":"x","type":"quantitative","scale":{"domain":[0,80]}},"y":{"field":"y","type":"quantitative","scale":{"domain":[0,80]}},"text":{"field":"t"}}}
     ]},
    {"width":260,"height":260,"title":{"text":"Background & Industrial","offset":-2,"dx":-7},
     "layer":[
      {"data":{"name":"density"},"transform":[{"filter":"datum.p==='B'"}],"mark":{"type":"area","interpolate":"monotone"},
       "encoding":{"x":{"field":"x","type":"quantitative","scale":{"domain":[0,80]},"axis":{"title":"Measured NO₂ [ug/m³]","values":[0,20,40,60,80],"titleX":112.5,"titleY":36,"titleBaseline":"middle"}},"y":{"field":"lo","type":"quantitative","stack":null,"scale":{"domain":[0,80]},"axis":{"title":null,"values":[0,20,40,60,80]}},"y2":{"field":"hi"},"color":{"field":"level","type":"ordinal","legend":null,"scale":{"domain":[1,2,3.5,5,7,10,20,40,70,100],"range":["#fff9f6","#fee6dc","#fcc3ae","#f8876a","#f0503a","#ec4a35","#cf1f20","#a30e14","#7a0510","#5c000b"]}}}},
      {"data":{"name":"lines"},"transform":[{"filter":"datum.p==='B' && datum.kind==='identity'"}],"mark":{"type":"line","color":"#000","strokeWidth":1,"strokeDash":[3,1.5]},"encoding":{"x":{"field":"x","type":"quantitative","scale":{"domain":[0,80]}},"y":{"field":"y","type":"quantitative","scale":{"domain":[0,80]}}}},
      {"data":{"name":"lines"},"transform":[{"filter":"datum.p==='B' && datum.kind==='fit'"}],"mark":{"type":"line","color":"#2f86ba","strokeWidth":1.6,"opacity":0.9},"encoding":{"x":{"field":"x","type":"quantitative","scale":{"domain":[0,80]}},"y":{"field":"y","type":"quantitative","scale":{"domain":[0,80]}}}},
      {"data":{"name":"notes"},"transform":[{"filter":"datum.p==='B'"}],"mark":{"type":"text","align":"left","baseline":"middle","fontSize":16.5},"encoding":{"x":{"field":"x","type":"quantitative","scale":{"domain":[0,80]}},"y":{"field":"y","type":"quantitative","scale":{"domain":[0,80]}},"text":{"field":"t"}}}
     ]},
    {"width":260,"height":260,"title":{"text":"Traffic","offset":-2,"dx":-5},
     "layer":[
      {"data":{"name":"density"},"transform":[{"filter":"datum.p==='R'"}],"mark":{"type":"area","interpolate":"monotone"},
       "encoding":{"x":{"field":"x","type":"quantitative","scale":{"domain":[0,80]},"axis":{"title":null,"values":[0,20,40,60,80]}},"y":{"field":"lo","type":"quantitative","stack":null,"scale":{"domain":[0,80]},"axis":{"title":null,"values":[0,20,40,60,80]}},"y2":{"field":"hi"},"color":{"field":"level","type":"ordinal","legend":null,"scale":{"domain":[1,2,3.5,5,7,10,20,40,70,100],"range":["#fff9f6","#fee3d7","#fcb49a","#fb9070","#f87850","#f25c3c","#e32f27","#b91419","#8a0812","#67000d"]}}}},
      {"data":{"name":"lines"},"transform":[{"filter":"datum.p==='R' && datum.kind==='identity'"}],"mark":{"type":"line","color":"#000","strokeWidth":1,"strokeDash":[3,1.5]},"encoding":{"x":{"field":"x","type":"quantitative","scale":{"domain":[0,80]}},"y":{"field":"y","type":"quantitative","scale":{"domain":[0,80]}}}},
      {"data":{"name":"lines"},"transform":[{"filter":"datum.p==='R' && datum.kind==='fit'"}],"mark":{"type":"line","color":"#2f86ba","strokeWidth":1.6,"opacity":0.9},"encoding":{"x":{"field":"x","type":"quantitative","scale":{"domain":[0,80]}},"y":{"field":"y","type":"quantitative","scale":{"domain":[0,80]}}}},
      {"data":{"name":"notes"},"transform":[{"filter":"datum.p==='R'"}],"mark":{"type":"text","align":"left","baseline":"middle","fontSize":16.5},"encoding":{"x":{"field":"x","type":"quantitative","scale":{"domain":[0,80]}},"y":{"field":"y","type":"quantitative","scale":{"domain":[0,80]}},"text":{"field":"t"}}}
     ]}
   ]},
   {"width":16,"height":260,"view":{"stroke":null},
    "layer":[
     {"data":{"values":[{"lo":1,"hi":100}]},"mark":{"type":"rect","stroke":"#888","strokeWidth":1,"color":{"gradient":"linear","x1":0,"y1":1,"x2":0,"y2":0,"stops":[{"offset":0,"color":"#fff5f0"},{"offset":0.125,"color":"#fee0d2"},{"offset":0.25,"color":"#fcbba1"},{"offset":0.375,"color":"#fc9272"},{"offset":0.5,"color":"#fb6a4a"},{"offset":0.625,"color":"#ef3b2c"},{"offset":0.75,"color":"#cb181d"},{"offset":0.875,"color":"#a50f15"},{"offset":1,"color":"#67000d"}]}},
      "encoding":{"y":{"field":"lo","type":"quantitative","scale":{"type":"log","domain":[1,100],"range":[269,-17]},"axis":{"title":null,"orient":"right","values":[1,10,100],"format":"d","labelFontSize":20,"labelPadding":3,"domain":false,"labelOverlap":false}},"y2":{"field":"hi"}}},
     {"data":{"values":[{"v":113.7}]},"mark":{"type":"point","filled":true,"opacity":1,"color":"#67000d","shape":"M-1,1L0,-1L1,1Z","size":256},"encoding":{"y":{"field":"v","type":"quantitative","scale":{"type":"log","domain":[1,100],"range":[269,-17]},"axis":{"title":null,"orient":"right","values":[1,10,100],"format":"d","labelFontSize":20,"labelPadding":3,"domain":false,"labelOverlap":false}}}},
     {"data":{"values":[{"t":"Counts","x":-1.125,"v":10}]},"mark":{"type":"text","angle":270,"align":"center","baseline":"middle","fontSize":18},"encoding":{"x":{"field":"x","type":"quantitative","axis":null,"scale":{"domain":[0,1]}},"y":{"field":"v","type":"quantitative","scale":{"type":"log","domain":[1,100],"range":[269,-17]},"axis":{"title":null,"orient":"right","values":[1,10,100],"format":"d","labelFontSize":20,"labelPadding":3,"domain":false,"labelOverlap":false}},"text":{"field":"t"}}}
    ]}
  ]}
 ]},
 {"bounds":"flush","spacing":517,"resolve":{"scale":{"color":"independent"}},"hconcat":[
  {"bounds":"flush","spacing":41,"resolve":{"scale":{"color":"independent"}},"hconcat":[
   {"width":17,"height":319,"view":{"stroke":null},
    "layer":[
     {"data":{"values":[{"lo":0,"hi":0.8}]},"mark":{"type":"rect","color":{"gradient":"linear","x1":0,"y1":1,"x2":0,"y2":0,"stops":[{"offset":0,"color":"#5e4fa2"},{"offset":0.1,"color":"#3288bd"},{"offset":0.2,"color":"#66c2a5"},{"offset":0.3,"color":"#abdda4"},{"offset":0.4,"color":"#e6f598"},{"offset":0.5,"color":"#ffffbf"},{"offset":0.6,"color":"#fee08b"},{"offset":0.7,"color":"#fdae61"},{"offset":0.8,"color":"#f46d43"},{"offset":0.9,"color":"#d53e4f"},{"offset":1,"color":"#9e0142"}]}},
      "encoding":{"y":{"field":"lo","type":"quantitative","scale":{"domain":[-0.042,0.8503]},"axis":{"title":null,"orient":"right","values":[0,0.1,0.2,0.3,0.4,0.5,0.6,0.7,0.8],"format":".1f","labelFontSize":15,"labelPadding":3,"domain":false,"labelOverlap":false}},"y2":{"field":"hi"}}},
     {"data":{"values":[{"v":0.821,"d":"up"}]},"mark":{"type":"point","filled":true,"opacity":1,"color":"#9e0142","shape":"M-1,0.88L0,-0.88L1,0.88Z","size":289},"encoding":{"y":{"field":"v","type":"quantitative","scale":{"domain":[-0.042,0.8503]},"axis":{"title":null,"orient":"right","values":[0,0.1,0.2,0.3,0.4,0.5,0.6,0.7,0.8],"format":".1f","labelFontSize":15,"labelPadding":3,"domain":false,"labelOverlap":false}}}},
     {"data":{"values":[{"v":-0.0182,"d":"down"}]},"mark":{"type":"point","filled":true,"opacity":1,"color":"#5e4fa2","shape":"M-1,-0.76L0,0.76L1,-0.76Z","size":289},"encoding":{"y":{"field":"v","type":"quantitative","scale":{"domain":[-0.042,0.8503]},"axis":{"title":null,"orient":"right","values":[0,0.1,0.2,0.3,0.4,0.5,0.6,0.7,0.8],"format":".1f","labelFontSize":15,"labelPadding":3,"domain":false,"labelOverlap":false}}}},
     {"data":{"values":[{"t":"CV test R² for each station","x":-1.53,"v":0.467}]},"mark":{"type":"text","angle":270,"align":"center","baseline":"middle","fontSize":24.5},"encoding":{"x":{"field":"x","type":"quantitative","axis":null,"scale":{"domain":[0,1]}},"y":{"field":"v","type":"quantitative","scale":{"domain":[-0.042,0.8503]},"axis":{"title":null,"orient":"right","values":[0,0.1,0.2,0.3,0.4,0.5,0.6,0.7,0.8],"format":".1f","labelFontSize":15,"labelPadding":3,"domain":false,"labelOverlap":false}},"text":{"field":"t"}}}
    ]},
   {"width":374,"height":319,
    "layer":[
     {"data":{"name":"coast"},"mark":{"type":"line","color":"#111","strokeWidth":0.8,"clip":true},"encoding":{"detail":{"field":"s"},"order":{"field":"i"},"x":{"field":"x","type":"quantitative","axis":null,"scale":{"domain":[208,1330]}},"y":{"field":"y","type":"quantitative","axis":null,"scale":{"domain":[975,18]}}}},
     {"data":{"name":"stations"},"mark":{"type":"circle","size":55,"opacity":1,"stroke":"#888","strokeWidth":0.4},"encoding":{"x":{"field":"x","type":"quantitative","axis":null,"scale":{"domain":[208,1330]}},"y":{"field":"y","type":"quantitative","axis":null,"scale":{"domain":[975,18]}},"color":{"field":"r2","type":"quantitative","legend":null,"scale":{"scheme":"spectral","reverse":true,"domain":[0,0.8],"clamp":true}}}},
     {"data":{"values":[{"t":"(b)","x":270,"y":100}]},"mark":{"type":"text","align":"left","baseline":"middle","fontSize":24},"encoding":{"x":{"field":"x","type":"quantitative","axis":null,"scale":{"domain":[208,1330]}},"y":{"field":"y","type":"quantitative","axis":null,"scale":{"domain":[975,18]}},"text":{"field":"t"}}}
    ]}
  ]},
  {"width":463,"height":243,"view":{"stroke":null},
   "layer":[
    {"data":{"values":[{"a":0.45,"b":12.55,"c":0.2,"d":1}]},"mark":{"type":"rect","fill":"white","stroke":"#666","strokeWidth":1},"encoding":{"x":{"field":"a","type":"quantitative","scale":{"domain":[0.45,12.55]},"axis":{"title":"Month","values":[1,2,3,4,5,6,7,8,9,10,11,12],"labelFontSize":16,"domain":false,"titleX":208,"titleY":70,"titleBaseline":"middle"}},"x2":{"field":"b"},"y":{"field":"c","type":"quantitative","scale":{"domain":[0.2,1.01]},"axis":{"title":"R²","values":[0.2,0.4,0.6,0.8,1.0],"format":".1f","labelFontSize":16,"domain":false,"titleAngle":0,"titleX":-52,"titleY":146,"titleBaseline":"middle","titleAlign":"center"}},"y2":{"field":"d"}}},
    {"data":{"name":"months"},"mark":{"type":"circle","size":55,"opacity":1,"stroke":"#555","strokeWidth":0.5},"encoding":{"x":{"field":"m","type":"quantitative","scale":{"domain":[0.45,12.55]}},"y":{"field":"r","type":"quantitative","scale":{"domain":[0.2,1.01]}},"color":{"field":"s","type":"nominal","scale":{"range":["#5b93c3"]},"legend":{"title":null,"orient":"none","legendX":243,"legendY":11,"labelFontSize":16,"labelColor":"#111","symbolSize":55,"symbolStrokeColor":"#555","symbolStrokeWidth":0.5,"fillColor":"white","strokeColor":"#e6e6e6","cornerRadius":3,"padding":8,"labelOffset":23,"symbolOffset":8}}}},
    {"data":{"values":[{"t":"(c)","x":0.53,"y":0.92}]},"mark":{"type":"text","align":"left","baseline":"middle","fontSize":24},"encoding":{"x":{"field":"x","type":"quantitative","scale":{"domain":[0.45,12.55]}},"y":{"field":"y","type":"quantitative","scale":{"domain":[0.2,1.01]}},"text":{"field":"t"}}}
   ]}
 ]}
]},
{"bounds":"flush","spacing":56,"resolve":{"scale":{"color":"independent"}},"hconcat":[
 {"width":1,"height":1,"view":{"stroke":null},"data":{"values":[{"t":"(d)","x":-47,"y":-14}]},"mark":{"type":"text","align":"left","baseline":"middle","fontSize":24},"encoding":{"x":{"field":"x","type":"quantitative","axis":null,"scale":{"domain":[0,1]}},"y":{"field":"y","type":"quantitative","axis":null,"scale":{"domain":[0,1]}},"text":{"field":"t"}}},
 {"bounds":"flush","spacing":46,"resolve":{"scale":{"color":"independent"}},"hconcat":[
  {"width":440,"height":286,
   "layer":[
    {"data":{"name":"bars"},"transform":[{"filter":"datum.pi===50"}],"mark":{"type":"rect","opacity":0.75,"stroke":"#333","strokeWidth":1},"encoding":{"x":{"field":"a","type":"quantitative","scale":{"domain":[21.88,61.95]},"axis":{"title":"Observed coverage probability","values":[26,34,42,50,58],"labelExpr":"datum.label+'%'","titleX":455,"titleY":47,"titleBaseline":"middle","labelPadding":2}},"x2":{"field":"b"},"y":{"field":"n","type":"quantitative","scale":{"domain":[0,6.33]},"axis":{"title":["Amount of","CV test sets"],"values":[0,1,2,3,4,5,6],"titlePadding":30,"titleLineHeight":28,"titleFontSize":26,"titleY":150}},"y2":{"datum":0},"color":{"field":"g","type":"nominal","sort":null,"scale":{"domain":["Total","Background & Industrial","Traffic"],"range":["#3f94c3","#fdd56f","#d93b2b"]},"legend":{"title":null,"orient":"none","legendX":185,"legendY":8,"labelFontSize":16,"labelLimit":300,"labelColor":"#111","symbolType":"M-1,-0.38H1V0.38H-1Z","symbolSize":900,"symbolOpacity":0.75,"symbolStrokeColor":"#444","symbolStrokeWidth":1,"clipHeight":23,"rowPadding":0,"fillColor":"rgba(255,255,255,0.8)","strokeColor":"#e6e6e6","cornerRadius":3,"padding":5,"labelOffset":12}}}},
    {"data":{"values":[{"t":"PI-50%","x":24.8,"y":5.39}]},"mark":{"type":"text","align":"left","baseline":"middle","fontSize":24},"encoding":{"x":{"field":"x","type":"quantitative","scale":{"domain":[21.88,61.95]}},"y":{"field":"y","type":"quantitative","scale":{"domain":[0,6.33]}},"text":{"field":"t"}}}
   ]},
  {"width":439,"height":286,
   "layer":[
    {"data":{"name":"bars"},"transform":[{"filter":"datum.pi===90"}],"mark":{"type":"rect","opacity":0.75,"stroke":"#333","strokeWidth":1},"encoding":{"x":{"field":"a","type":"quantitative","scale":{"domain":[70,100.05]},"axis":{"title":null,"values":[74,82,90,98],"labelExpr":"datum.label+'%'","labelPadding":2}},"x2":{"field":"b"},"y":{"field":"n","type":"quantitative","scale":{"domain":[0,6.33]},"axis":{"title":null,"values":[0,1,2,3,4,5,6]}},"y2":{"datum":0},"color":{"field":"g","type":"nominal","sort":null,"legend":null,"scale":{"domain":["Total","Background & Industrial","Traffic"],"range":["#3f94c3","#fdd56f","#d93b2b"]}}}},
    {"data":{"values":[{"t":"PI-90%","x":72.26,"y":5.39}]},"mark":{"type":"text","align":"left","baseline":"middle","fontSize":24},"encoding":{"x":{"field":"x","type":"quantitative","scale":{"domain":[70,100.05]}},"y":{"field":"y","type":"quantitative","scale":{"domain":[0,6.33]}},"text":{"field":"t"}}}
   ]}
 ]}
]}
]}
